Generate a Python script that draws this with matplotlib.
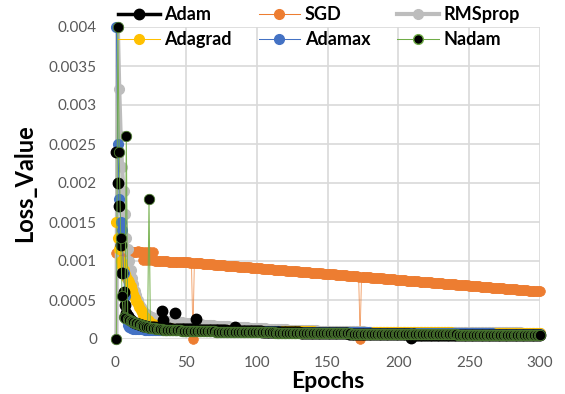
import numpy as np
import matplotlib
matplotlib.use('Agg')
import matplotlib.pyplot as plt
from matplotlib.lines import Line2D

epochs = np.arange(1, 301)

# values in units of 1e-6
adam = [
    2400, 2000, 1700, 1200, 840, 600, 440, 330, 290, 265,
    245, 230, 218, 208, 200, 193, 187, 181, 176, 171,
    167, 163, 160, 158, 155, 152, 150, 148, 146, 144,
    142, 141, 360, 240, 138, 137, 136, 135, 134, 133,
    132, 330, 131, 130, 129, 128, 128, 127, 126, 125,
    125, 124, 123, 123, 122, 121, 260, 120, 119, 119,
    118, 118, 117, 116, 116, 115, 115, 114, 113, 113,
    112, 112, 111, 111, 110, 110, 109, 109, 108, 108,
    107, 107, 106, 106, 160, 105, 105, 104, 104, 103,
    103, 102, 102, 101, 101, 100, 100, 99, 99, 98,
    98, 97, 97, 96, 96, 95, 95, 94, 94, 93,
    93, 92, 92, 91, 91, 90, 90, 89, 89, 88,
    88, 87, 87, 86, 86, 85, 85, 85, 84, 84,
    83, 83, 82, 82, 82, 81, 81, 80, 80, 80,
    79, 79, 78, 78, 78, 77, 77, 76, 76, 76,
    75, 75, 75, 74, 74, 73, 73, 73, 72, 72,
    72, 71, 71, 71, 70, 70, 70, 69, 69, 69,
    68, 68, 68, 67, 67, 67, 66, 66, 66, 65,
    65, 65, 65, 64, 64, 64, 63, 63, 63, 63,
    62, 62, 62, 62, 61, 61, 61, 61, 60, 60,
    60, 60, 59, 59, 59, 59, 58, 58, 10, 58,
    58, 57, 57, 57, 57, 57, 56, 56, 56, 56,
    56, 55, 55, 55, 55, 55, 55, 54, 54, 54,
    54, 54, 54, 53, 53, 53, 53, 53, 53, 52,
    52, 52, 52, 52, 52, 52, 51, 51, 51, 51,
    51, 51, 51, 50, 50, 50, 50, 50, 50, 50,
    50, 49, 49, 49, 49, 49, 49, 49, 49, 48,
    48, 48, 48, 48, 48, 48, 48, 48, 47, 47,
    47, 47, 47, 47, 47, 47, 47, 46, 46, 46,
    46, 46, 46, 46, 46, 46, 45, 45, 45, 45,
]

sgd = [
    1100, 1105, 1118, 1120, 1122, 1120, 1118, 1121, 1120, 1119,
    1120, 1118, 1121, 1120, 1119, 1122, 1120, 1118, 1121, 1010,
    1120, 1012, 1118, 1008, 1120, 1010, 1119, 1005, 1002, 1000,
    999, 998, 996, 997, 995, 994, 995, 993, 992, 991,
    990, 991, 989, 988, 989, 987, 986, 985, 986, 984,
    983, 981, 980, 978, 0, 975, 974, 972, 971, 969,
    968, 966, 965, 963, 962, 960, 959, 957, 956, 954,
    953, 951, 950, 948, 947, 945, 944, 942, 941, 939,
    938, 936, 935, 933, 932, 930, 929, 927, 926, 924,
    923, 921, 920, 918, 917, 915, 914, 912, 911, 909,
    908, 906, 905, 903, 902, 900, 899, 897, 896, 894,
    893, 891, 890, 888, 887, 885, 884, 882, 881, 879,
    878, 876, 875, 873, 872, 870, 869, 867, 866, 864,
    863, 861, 860, 858, 857, 855, 854, 852, 851, 849,
    848, 846, 845, 843, 842, 840, 839, 837, 836, 834,
    833, 831, 830, 828, 827, 825, 824, 822, 821, 819,
    818, 816, 815, 813, 812, 810, 809, 807, 806, 804,
    803, 801, 0, 798, 797, 795, 794, 792, 791, 789,
    788, 786, 785, 783, 782, 780, 779, 777, 776, 774,
    773, 771, 770, 768, 767, 765, 764, 762, 761, 759,
    758, 756, 755, 753, 752, 750, 749, 747, 746, 744,
    743, 741, 740, 738, 737, 735, 734, 732, 731, 729,
    728, 726, 725, 723, 722, 720, 719, 717, 716, 714,
    713, 711, 710, 708, 707, 705, 704, 702, 701, 699,
    698, 696, 695, 693, 692, 690, 689, 687, 686, 684,
    683, 681, 680, 678, 677, 675, 674, 672, 671, 669,
    668, 666, 665, 663, 662, 660, 659, 657, 656, 654,
    653, 651, 650, 648, 647, 645, 644, 642, 641, 639,
    638, 636, 635, 633, 632, 630, 629, 627, 626, 624,
    623, 621, 620, 618, 617, 615, 614, 612, 611, 609,
]

rmsprop = [
    0, 4000, 3200, 2600, 2200, 1900, 1600, 1300, 1150, 1000,
    880, 780, 700, 620, 560, 500, 450, 410, 380, 355,
    335, 320, 305, 295, 285, 278, 272, 266, 260, 255,
    251, 247, 244, 241, 238, 235, 233, 231, 229, 227,
    225, 223, 221, 219, 217, 215, 213, 211, 209, 207,
    205, 203, 201, 199, 197, 195, 193, 191, 189, 188,
    186, 185, 183, 182, 180, 179, 177, 176, 175, 173,
    172, 171, 169, 168, 167, 166, 165, 163, 162, 161,
    160, 159, 158, 157, 156, 155, 154, 153, 152, 151,
    150, 149, 148, 147, 146, 145, 144, 143, 142, 141,
    140, 139, 138, 137, 136, 135, 134, 133, 132, 131,
    130, 129, 128, 128, 127, 126, 125, 124, 124, 123,
    122, 121, 121, 120, 119, 118, 118, 117, 116, 116,
    115, 114, 114, 113, 113, 112, 111, 111, 110, 110,
    109, 109, 108, 108, 107, 107, 106, 106, 105, 105,
    104, 104, 104, 103, 103, 102, 102, 102, 101, 101,
    101, 100, 100, 100, 99, 99, 99, 98, 98, 98,
    98, 97, 97, 97, 97, 96, 96, 96, 96, 95,
    95, 95, 95, 95, 94, 94, 94, 94, 94, 94,
    93, 93, 93, 93, 93, 93, 93, 92, 92, 92,
    92, 92, 92, 92, 91, 91, 91, 91, 91, 91,
    91, 91, 90, 90, 90, 90, 90, 90, 90, 90,
    90, 89, 89, 89, 89, 89, 89, 89, 89, 89,
    88, 88, 88, 88, 88, 88, 88, 88, 88, 88,
    87, 87, 87, 87, 87, 87, 87, 87, 87, 87,
    87, 86, 86, 86, 86, 86, 86, 86, 86, 86,
    86, 86, 85, 85, 85, 85, 85, 85, 85, 85,
    85, 85, 85, 85, 84, 84, 84, 84, 84, 84,
    84, 84, 84, 84, 84, 84, 83, 83, 83, 83,
    83, 83, 83, 83, 83, 83, 83, 83, 83, 83,
]

adagrad = [
    1500, 1300, 1150, 1000, 940, 880, 830, 790, 760, 730,
    680, 630, 580, 530, 490, 450, 410, 370, 340, 310,
    285, 262, 242, 225, 210, 198, 187, 178, 170, 163,
    158, 154, 150, 147, 144, 141, 139, 137, 135, 133,
    131, 130, 128, 127, 126, 125, 124, 123, 122, 121,
    120, 120, 119, 118, 118, 117, 117, 116, 116, 115,
    115, 114, 114, 114, 113, 113, 112, 112, 112, 111,
    111, 111, 110, 110, 110, 109, 109, 109, 109, 108,
    108, 108, 108, 107, 107, 107, 107, 106, 106, 106,
    106, 105, 105, 105, 105, 105, 104, 104, 104, 104,
    104, 103, 103, 103, 103, 103, 102, 102, 102, 102,
    102, 101, 101, 101, 101, 101, 100, 100, 100, 100,
    100, 100, 99, 99, 99, 99, 99, 99, 98, 98,
    98, 98, 98, 98, 97, 97, 97, 97, 97, 97,
    96, 96, 96, 96, 96, 96, 95, 95, 95, 95,
    95, 95, 95, 94, 94, 94, 94, 94, 94, 93,
    93, 93, 93, 93, 93, 93, 92, 92, 92, 92,
    92, 92, 92, 91, 91, 91, 91, 91, 91, 91,
    90, 90, 90, 90, 90, 90, 90, 89, 89, 89,
    89, 89, 89, 89, 89, 88, 88, 88, 88, 88,
    88, 88, 88, 87, 87, 87, 87, 87, 87, 87,
    87, 86, 86, 86, 86, 86, 86, 86, 86, 85,
    85, 85, 85, 85, 85, 85, 85, 85, 84, 84,
    84, 84, 84, 84, 84, 84, 84, 83, 83, 83,
    83, 83, 83, 83, 83, 83, 83, 82, 82, 82,
    82, 82, 82, 82, 82, 82, 82, 81, 81, 81,
    81, 81, 81, 81, 81, 81, 81, 80, 80, 80,
    80, 80, 80, 80, 80, 80, 80, 80, 79, 79,
    79, 79, 79, 79, 79, 79, 79, 79, 79, 78,
    78, 78, 78, 78, 78, 78, 78, 78, 78, 78,
]

adamax = [
    4000, 2500, 1800, 1500, 1400, 850, 550, 260, 175, 150,
    142, 137, 133, 130, 128, 126, 125, 124, 123, 122,
    121, 120, 120, 119, 119, 118, 118, 117, 117, 117,
    116, 116, 116, 115, 115, 115, 115, 114, 114, 114,
    114, 113, 113, 113, 113, 112, 112, 112, 112, 112,
    111, 111, 111, 111, 110, 110, 110, 110, 110, 109,
    109, 109, 109, 108, 108, 108, 108, 108, 107, 107,
    107, 107, 106, 106, 106, 106, 106, 105, 105, 105,
    105, 104, 104, 104, 104, 103, 103, 103, 103, 102,
    102, 102, 102, 102, 101, 101, 101, 101, 100, 100,
    100, 100, 99, 99, 99, 99, 98, 98, 98, 98,
    98, 97, 97, 97, 97, 96, 96, 96, 96, 96,
    95, 95, 95, 95, 94, 94, 94, 94, 94, 93,
    93, 93, 93, 92, 92, 92, 92, 92, 91, 91,
    91, 91, 91, 90, 90, 90, 90, 90, 89, 89,
    89, 89, 89, 88, 88, 88, 88, 88, 87, 87,
    87, 87, 87, 86, 86, 86, 86, 86, 85, 85,
    85, 85, 85, 85, 84, 84, 84, 84, 84, 83,
    83, 83, 83, 83, 83, 82, 82, 82, 82, 82,
    81, 81, 81, 81, 81, 81, 80, 80, 80, 80,
    80, 80, 79, 79, 79, 79, 79, 79, 78, 78,
    78, 78, 78, 78, 77, 77, 77, 77, 77, 77,
    76, 76, 76, 76, 76, 76, 76, 75, 75, 75,
    75, 75, 75, 75, 74, 74, 74, 74, 74, 74,
    74, 73, 73, 73, 73, 73, 73, 73, 73, 72,
    72, 72, 72, 72, 72, 72, 72, 71, 71, 71,
    71, 71, 71, 71, 71, 71, 70, 70, 70, 70,
    70, 70, 70, 70, 70, 69, 69, 69, 69, 69,
    69, 69, 69, 69, 68, 68, 68, 68, 68, 68,
    68, 68, 68, 68, 67, 67, 67, 67, 67, 67,
]

nadam = [
    0, 4000, 2400, 1300, 550, 280, 270, 2600, 255, 245,
    236, 227, 218, 210, 202, 195, 188, 181, 175, 169,
    164, 159, 154, 1800, 146, 142, 138, 135, 132, 129,
    127, 125, 123, 121, 119, 118, 117, 116, 115, 114,
    113, 112, 111, 110, 110, 109, 108, 108, 107, 106,
    106, 105, 105, 104, 104, 103, 103, 102, 102, 101,
    101, 100, 100, 99, 99, 98, 98, 98, 97, 97,
    96, 96, 96, 95, 95, 95, 94, 94, 94, 93,
    93, 93, 92, 92, 92, 91, 91, 91, 90, 90,
    90, 89, 89, 89, 88, 88, 88, 88, 87, 87,
    87, 86, 86, 86, 86, 85, 85, 85, 84, 84,
    84, 84, 83, 83, 83, 83, 82, 82, 82, 82,
    81, 81, 81, 81, 80, 80, 80, 80, 79, 79,
    79, 79, 78, 78, 78, 78, 77, 77, 77, 77,
    76, 76, 76, 76, 75, 75, 75, 75, 74, 74,
    74, 74, 74, 73, 73, 73, 73, 72, 72, 72,
    72, 72, 71, 71, 71, 71, 70, 70, 70, 70,
    70, 69, 69, 69, 69, 69, 68, 68, 68, 68,
    68, 67, 67, 67, 67, 67, 66, 66, 66, 66,
    66, 65, 65, 65, 65, 65, 65, 64, 64, 64,
    64, 64, 63, 63, 63, 63, 63, 63, 62, 62,
    62, 62, 62, 62, 61, 61, 61, 61, 61, 61,
    60, 60, 60, 60, 60, 60, 60, 59, 59, 59,
    59, 59, 59, 59, 58, 58, 58, 58, 58, 58,
    58, 57, 57, 57, 57, 57, 57, 57, 56, 56,
    56, 56, 56, 56, 56, 56, 55, 55, 55, 55,
    55, 55, 55, 55, 54, 54, 54, 54, 54, 54,
    54, 54, 53, 53, 53, 53, 53, 53, 53, 53,
    52, 52, 52, 52, 52, 52, 52, 52, 52, 51,
    51, 51, 51, 51, 51, 51, 51, 50, 50, 45,
]

xticks = [0, 50, 100, 150, 200, 250, 300]
yticks = [0, 0.0005, 0.001, 0.0015, 0.002, 0.0025, 0.003, 0.0035, 0.004]
ytick_labels = ['0', '0.0005', '0.001', '0.0015', '0.002', '0.0025', '0.003', '0.0035', '0.004']

UNIT = 1e-6
FONT = 'Lato'

C_ADAM = '#000000'
C_SGD = '#ED7D31'
C_RMS = '#BDBDBD'
C_ADAGRAD = '#FFC000'
C_ADAMAX = '#4472C4'
C_NADAM = '#70AD47'
C_NADAM_EDGE = '#4F7F33'

fig = plt.figure(figsize=(5.65, 3.94), dpi=100)
ax = fig.add_axes([115 / 565, 1 - 339 / 394, 425 / 565, 312 / 394])

ms = 7
# SGD
ax.plot(epochs, np.array(sgd) * UNIT, color=C_SGD, lw=0.6, alpha=0.8, zorder=3, clip_on=False)
ax.plot(epochs, np.array(sgd) * UNIT, ls='none', marker='o', ms=ms, mfc=C_SGD, mec=C_SGD, mew=0.5, zorder=3.1, clip_on=False)
# RMSprop
ax.plot(epochs, np.array(rmsprop) * UNIT, color=C_RMS, lw=3, marker='o', ms=ms, mfc=C_RMS, mec=C_RMS, zorder=4, clip_on=False)
# Adagrad
ax.plot(epochs, np.array(adagrad) * UNIT, color=C_ADAGRAD, lw=0.75, marker='o', ms=ms, mfc=C_ADAGRAD, mec=C_ADAGRAD, zorder=5, clip_on=False)
# Adamax
ax.plot(epochs, np.array(adamax) * UNIT, color=C_ADAMAX, lw=0.75, marker='o', ms=ms, mfc=C_ADAMAX, mec=C_ADAMAX, zorder=6, clip_on=False)
# Adam
ax.plot(epochs, np.array(adam) * UNIT, ls='none', marker='o', ms=7.5, mfc=C_ADAM, mec=C_ADAM, zorder=7, clip_on=False)
# Nadam
ax.plot(epochs, np.array(nadam) * UNIT, color=C_NADAM, lw=0.75, alpha=0.9, zorder=8, clip_on=False)
ax.plot(epochs, np.array(nadam) * UNIT, ls='none', marker='o', ms=7.5, mfc='black', mec=C_NADAM_EDGE, mew=0.6, zorder=8.1, clip_on=False)

ax.set_xlim(0, 300)
ax.set_ylim(0, 0.004)
ax.set_xticks(xticks)
ax.set_xticklabels([str(t) for t in xticks])
ax.set_yticks(yticks)
ax.set_yticklabels(ytick_labels)
ax.tick_params(length=0, labelsize=11, labelcolor='#595959')
ax.tick_params(axis='x', pad=12)
ax.tick_params(axis='y', pad=13)
for lab in ax.get_xticklabels() + ax.get_yticklabels():
    lab.set_fontfamily(FONT)
for s in ax.spines.values():
    s.set_visible(False)
ax.grid(True, color='#D9D9D9', lw=1.2)
ax.set_axisbelow(True)

fig.text(25 / 565, 1 - 183 / 394, 'Loss_Value', rotation=90, ha='center', va='center',
         fontsize=17, fontweight='bold', family=FONT)
fig.text(327.5 / 565, 1 - 381 / 394, 'Epochs', ha='center', va='center',
         fontsize=16.5, fontweight='bold', family=FONT)

handles = [
    Line2D([], [], color=C_ADAM, lw=2.5, marker='o', ms=7.5, mfc=C_ADAM, mec=C_ADAM),
    Line2D([], [], color=C_ADAGRAD, lw=0.75, marker='o', ms=7, mfc=C_ADAGRAD, mec=C_ADAGRAD),
    Line2D([], [], color=C_SGD, lw=0.75, marker='o', ms=7, mfc=C_SGD, mec=C_SGD),
    Line2D([], [], color=C_ADAMAX, lw=0.75, marker='o', ms=7, mfc=C_ADAMAX, mec=C_ADAMAX),
    Line2D([], [], color=C_RMS, lw=3, marker='o', ms=7, mfc=C_RMS, mec=C_RMS),
    Line2D([], [], color=C_NADAM, lw=0.75, marker='o', ms=7, mfc='black', mec=C_NADAM),
]
labels = ['Adam', 'Adagrad', 'SGD', 'Adamax', 'RMSprop', 'Nadam']
leg = fig.legend(handles, labels, ncol=3, loc='upper left', bbox_to_anchor=(118 / 565, 1 - 6 / 394),
                 frameon=False, borderpad=0, borderaxespad=0, handlelength=2.3, handletextpad=0.25,
                 columnspacing=1.5, labelspacing=0.45,
                 prop={'family': FONT, 'weight': 'bold', 'size': 13})
leg.set_zorder(20)

fig.savefig('out.png', dpi=100)
